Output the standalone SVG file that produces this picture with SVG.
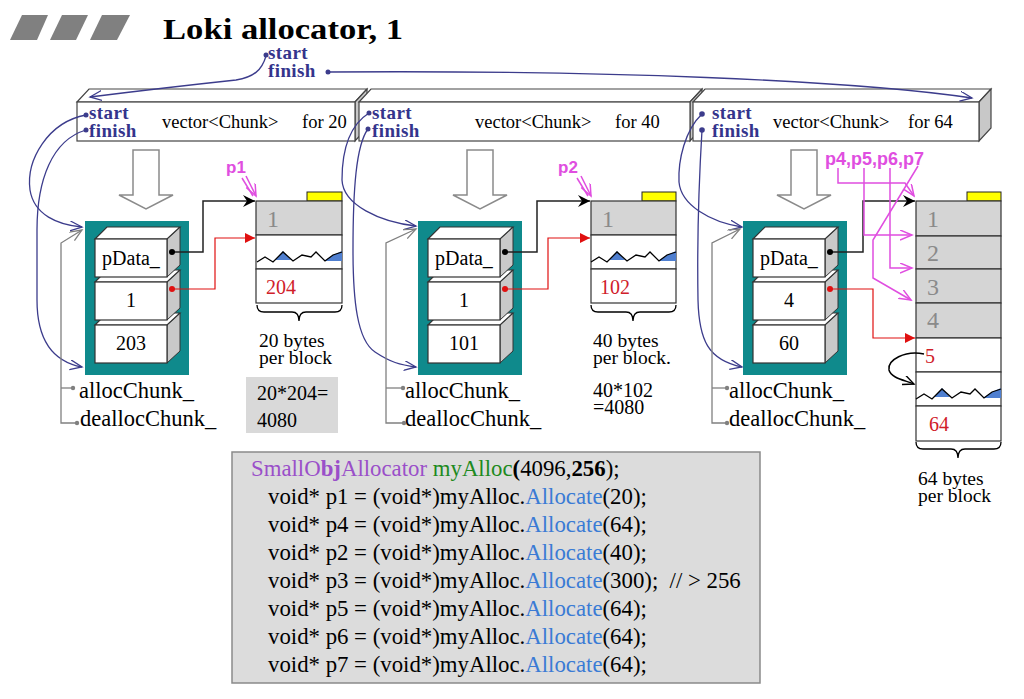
<svg xmlns="http://www.w3.org/2000/svg" xmlns:xlink="http://www.w3.org/1999/xlink" width="1024" height="699" viewBox="0 0 1024 699">
<style>
  .serif{font-family:"Liberation Serif","Times New Roman",serif;}
  .lbl{font-family:"Liberation Serif","Times New Roman",serif;font-weight:bold;font-size:19px;fill:#34348c;letter-spacing:0.4px;}
  .vt{font-family:"Liberation Serif","Times New Roman",serif;font-size:18.5px;fill:#000;}
  .bt{font-family:"Liberation Serif","Times New Roman",serif;font-size:20px;fill:#000;}
  .st{font-family:"Liberation Serif","Times New Roman",serif;font-size:19.5px;fill:#000;}
  .at{font-family:"Liberation Serif","Times New Roman",serif;font-size:22.5px;fill:#000;}
  .gnum{font-family:"Liberation Serif","Times New Roman",serif;font-size:24px;fill:#8a8a8a;}
  .rnum{font-family:"Liberation Serif","Times New Roman",serif;font-size:20px;fill:#d0202a;}
  .mag{font-family:"Liberation Sans",Arial,sans-serif;font-weight:bold;fill:#e04ee0;}
  .code{font-family:"Liberation Serif","Times New Roman",serif;font-size:22.8px;fill:#000;}
  .face{fill:#fff;stroke:#444;stroke-width:1.2;}
  .side{fill:#c8c8c8;stroke:#444;stroke-width:1.2;}
  .blk{fill:#fff;stroke:#333;stroke-width:1.2;}
  .bside{fill:#c9c9c9;stroke:#333;stroke-width:1;}
  .grow{fill:#d5d5d5;stroke:#333;stroke-width:1.2;}
  .wrow{fill:#fff;stroke:#333;stroke-width:1.2;}
  .yel{fill:#ffff00;stroke:#222;stroke-width:1;}
  .navy{fill:none;stroke:#3c3c8c;stroke-width:1.3;}
  .grayl{fill:none;stroke:#808080;stroke-width:1.3;}
  .magl{fill:none;stroke:#e04ee0;stroke-width:1.5;}
  .hollow{fill:#fff;stroke:#8a8a8a;stroke-width:1.5;}
</style>
<defs>
  <marker id="navyV" markerUnits="userSpaceOnUse" markerWidth="14" markerHeight="12" refX="12" refY="5" orient="auto">
    <path d="M0,0 L12,5 L0,10" fill="none" stroke="#3c3c8c" stroke-width="1.3"/>
  </marker>
  <marker id="grayV" markerUnits="userSpaceOnUse" markerWidth="14" markerHeight="12" refX="12" refY="5" orient="auto">
    <path d="M0,0 L12,5 L0,10" fill="none" stroke="#808080" stroke-width="1.3"/>
  </marker>
  <marker id="magV" markerUnits="userSpaceOnUse" markerWidth="14" markerHeight="12" refX="12" refY="5" orient="auto">
    <path d="M0,0 L12,5 L0,10" fill="none" stroke="#e04ee0" stroke-width="1.5"/>
  </marker>
  <marker id="blkA" markerUnits="userSpaceOnUse" markerWidth="14" markerHeight="14" refX="12" refY="6" orient="auto">
    <path d="M0,0 L12,6 L0,12 L4,6 z" fill="#000"/>
  </marker>
  <marker id="blkV" markerUnits="userSpaceOnUse" markerWidth="14" markerHeight="12" refX="11" refY="5" orient="auto">
    <path d="M0,0 L11,5 L0,10" fill="none" stroke="#000" stroke-width="1.4"/>
  </marker>
  <marker id="redA" markerUnits="userSpaceOnUse" markerWidth="12" markerHeight="12" refX="10" refY="5" orient="auto">
    <path d="M0,0 L10,5 L0,10 z" fill="#e01010"/>
  </marker>
  <g id="wave">
    <polygon points="275,260 283,251 291,260" fill="#4f7fd0"/>
    <polygon points="324,261 333,255 342,251 342,261" fill="#4f7fd0"/>
    <polyline points="257,262 265,257 273,262 283,252 293,261 302,255 311,257 316,252 325,261 333,255 342,252" fill="none" stroke="#000" stroke-width="1.3"/>
  </g>
  <path id="brace" d="M257,305 Q257,312 264,312 L292,312 Q299,312 299,321 Q299,312 306,312 L335,312 Q342,312 342,305" fill="none" stroke="#000" stroke-width="1.3"/>
  <g id="stack">
    <rect x="85" y="221" width="104" height="154" fill="#0f8a8c"/>
    <polygon class="bside" points="167,325 180,313 180,351 167,363"/>
    <polygon class="blk" points="95,325 107,313 180,313 167,325"/>
    <rect class="blk" x="95" y="325" width="72" height="38"/>
    <polygon class="bside" points="167,282 180,270 180,308 167,320"/>
    <polygon class="blk" points="95,282 107,270 180,270 167,282"/>
    <rect class="blk" x="95" y="282" width="72" height="38"/>
    <polygon class="bside" points="167,239 180,227 180,265 167,277"/>
    <polygon class="blk" points="95,239 107,227 180,227 167,239"/>
    <rect class="blk" x="95" y="239" width="72" height="38"/>
  </g>
  <polygon id="hollow" class="hollow" points="133,150 159,150 159,195 173,195 146,209 119,195 133,195"/>
</defs>

<rect x="0" y="0" width="1024" height="699" fill="#fff"/>

<g id="title">
  <polygon points="22,15 48,15 37,40 10,40" fill="#808080"/>
  <polygon points="62,15 88,15 76,40 50,40" fill="#808080"/>
  <polygon points="102,15 130,15 117,40 90,40" fill="#808080"/>
  <text x="163" y="39" class="serif" font-size="29" font-weight="bold" textLength="240" lengthAdjust="spacingAndGlyphs">Loki allocator, 1</text>
</g>

<g id="outer-vector">
  <text x="268" y="59" class="lbl">start</text>
  <text x="268" y="77" class="lbl">finish</text>
</g>

<g id="vec1">
  <polygon class="face" points="77,102 89,89 367,89 355,102"/>
  <polygon class="side" points="355,102 367,89 367,128 355,141"/>
  <rect class="face" x="77" y="102" width="278" height="39"/>
  <text x="89" y="119" class="lbl">start</text>
  <text x="89" y="137" class="lbl">finish</text>
  <text x="162" y="128" class="vt">vector&lt;Chunk&gt;</text>
  <text x="302" y="128" class="vt">for 20</text>
</g>
<g id="vec2">
  <polygon class="face" points="359,102 371,89 702,89 690,102"/>
  <polygon class="side" points="690,102 702,89 702,128 690,141"/>
  <rect class="face" x="359" y="102" width="331" height="39"/>
  <text x="372" y="119" class="lbl">start</text>
  <text x="372" y="137" class="lbl">finish</text>
  <text x="475" y="128" class="vt">vector&lt;Chunk&gt;</text>
  <text x="615" y="128" class="vt">for 40</text>
</g>
<g id="vec3">
  <polygon class="face" points="693,102 705,89 991,89 979,102"/>
  <polygon class="side" points="979,102 991,89 991,128 979,141"/>
  <rect class="face" x="693" y="102" width="286" height="39"/>
  <text x="712" y="119" class="lbl">start</text>
  <text x="712" y="137" class="lbl">finish</text>
  <text x="773" y="128" class="vt">vector&lt;Chunk&gt;</text>
  <text x="908" y="128" class="vt">for 64</text>
</g>

<g id="arrows-down">
  <use xlink:href="#hollow"/>
  <use xlink:href="#hollow" transform="translate(334,0)"/>
  <use xlink:href="#hollow" transform="translate(658,0)"/>
</g>

<g id="chunk1">
  <use xlink:href="#stack"/>
  <text x="131" y="265" class="bt" text-anchor="middle">pData_</text>
  <text x="131" y="307" class="bt" text-anchor="middle">1</text>
  <text x="131" y="350" class="bt" text-anchor="middle">203</text>
  <text x="79" y="398" class="at">allocChunk_</text>
  <text x="80" y="426" class="at">deallocChunk_</text>
</g>
<g id="chunk2">
  <use xlink:href="#stack" transform="translate(333,0)"/>
  <text x="464" y="265" class="bt" text-anchor="middle">pData_</text>
  <text x="464" y="307" class="bt" text-anchor="middle">1</text>
  <text x="464" y="350" class="bt" text-anchor="middle">101</text>
  <text x="405" y="398" class="at">allocChunk_</text>
  <text x="405" y="426" class="at">deallocChunk_</text>
</g>
<g id="chunk3">
  <use xlink:href="#stack" transform="translate(658,0)"/>
  <text x="789" y="265" class="bt" text-anchor="middle">pData_</text>
  <text x="789" y="307" class="bt" text-anchor="middle">4</text>
  <text x="789" y="350" class="bt" text-anchor="middle">60</text>
  <text x="729" y="398" class="at">allocChunk_</text>
  <text x="729" y="426" class="at">deallocChunk_</text>
</g>

<g id="mem1">
  <rect class="yel" x="307" y="192" width="35" height="9"/>
  <rect class="grow" x="256" y="201" width="86" height="34"/>
  <rect class="wrow" x="256" y="235" width="86" height="34"/>
  <rect class="wrow" x="256" y="269" width="86" height="34"/>
  <text x="267" y="227" class="gnum">1</text>
  <use xlink:href="#wave"/>
  <text x="266" y="294" class="rnum">204</text>
  <use xlink:href="#brace"/>
  <text x="259" y="347" class="st">20 bytes</text>
  <text x="259" y="364" class="st">per block</text>
  <rect x="246" y="377" width="92" height="56" fill="#d9d9d9"/>
  <text x="257" y="400" class="bt">20*204=</text>
  <text x="257" y="427" class="bt">4080</text>
</g>
<g id="mem2">
  <rect class="yel" x="642" y="192" width="34" height="9"/>
  <rect class="grow" x="591" y="201" width="85" height="34"/>
  <rect class="wrow" x="591" y="235" width="85" height="34"/>
  <rect class="wrow" x="591" y="269" width="85" height="34"/>
  <text x="602" y="227" class="gnum">1</text>
  <use xlink:href="#wave" transform="translate(334,0)"/>
  <text x="600" y="294" class="rnum">102</text>
  <use xlink:href="#brace" transform="translate(334,0)"/>
  <text x="593" y="347" class="st">40 bytes</text>
  <text x="593" y="364" class="st">per block.</text>
  <text x="593" y="397" class="bt" font-size="19">40*102</text>
  <text x="593" y="414" class="bt" font-size="19">=4080</text>
</g>
<g id="mem3">
  <rect class="yel" x="967" y="192" width="34" height="9"/>
  <rect class="grow" x="916" y="201" width="85" height="35"/>
  <rect class="grow" x="916" y="236" width="85" height="33"/>
  <rect class="grow" x="916" y="269" width="85" height="34"/>
  <rect class="grow" x="916" y="303" width="85" height="35"/>
  <rect class="wrow" x="916" y="338" width="85" height="34"/>
  <rect class="wrow" x="916" y="372" width="85" height="34"/>
  <rect class="wrow" x="916" y="406" width="85" height="35"/>
  <text x="927" y="227" class="gnum">1</text>
  <text x="927" y="261" class="gnum">2</text>
  <text x="927" y="295" class="gnum">3</text>
  <text x="927" y="328" class="gnum">4</text>
  <text x="925" y="363" class="rnum">5</text>
  <use xlink:href="#wave" transform="translate(659,137)"/>
  <text x="929" y="431" class="rnum">64</text>
  <use xlink:href="#brace" transform="translate(659,137)"/>
  <text x="918" y="485" class="st">64 bytes</text>
  <text x="918" y="502" class="st">per block</text>
</g>

<g id="pointer-labels">
  <text x="226" y="173" class="mag" font-size="17">p1</text>
  <text x="558" y="173" class="mag" font-size="17">p2</text>
  <text x="825" y="165" class="mag" font-size="18">p4,p5,p6,p7</text>
</g>

<g id="code">
  <rect x="232" y="452" width="528" height="231" fill="#dcdcdc" stroke="#8a8a8a" stroke-width="1.5"/>
  <text x="251" y="476" class="code"><tspan fill="#9a4fc9">SmallO<tspan font-weight="bold">bj</tspan>Allocator</tspan> <tspan fill="#1e8a1e">myAlloc</tspan><tspan font-weight="bold">(</tspan>4096,<tspan font-weight="bold">256</tspan>);</text>
  <text x="268" y="504" class="code">void* p1 = (void*)myAlloc.<tspan fill="#3a7bd5">Allocate</tspan>(20);</text>
  <text x="268" y="532" class="code">void* p4 = (void*)myAlloc.<tspan fill="#3a7bd5">Allocate</tspan>(64);</text>
  <text x="268" y="560" class="code">void* p2 = (void*)myAlloc.<tspan fill="#3a7bd5">Allocate</tspan>(40);</text>
  <text x="268" y="588" class="code" xml:space="preserve">void* p3 = (void*)myAlloc.<tspan fill="#3a7bd5">Allocate</tspan>(300);  // &gt; 256</text>
  <text x="268" y="616" class="code">void* p5 = (void*)myAlloc.<tspan fill="#3a7bd5">Allocate</tspan>(64);</text>
  <text x="268" y="644" class="code">void* p6 = (void*)myAlloc.<tspan fill="#3a7bd5">Allocate</tspan>(64);</text>
  <text x="268" y="672" class="code">void* p7 = (void*)myAlloc.<tspan fill="#3a7bd5">Allocate</tspan>(64);</text>
</g>

<g id="connectors">
  <path class="navy" d="M266,56 C262,70 254,77 236,80 C180,86 130,92 90,97" marker-end="url(#navyV)"/>
  <path class="navy" d="M328,72 C600,70 850,80 972,98" marker-end="url(#navyV)"/>
  <path class="navy" d="M86,115 C48,122 26,160 30,190 C34,215 58,225 82,227" marker-end="url(#navyV)"/>
  <path class="navy" d="M86,130 C52,140 37,180 37,230 L37,300 C37,343 55,362 82,367" marker-end="url(#navyV)"/>
  <path class="navy" d="M369,113 C350,125 342,150 342,180 C343,205 380,222 416,226" marker-end="url(#navyV)"/>
  <path class="navy" d="M368,129 C356,145 353,190 353,250 C353,300 357,340 375,352 C390,362 400,365 416,367" marker-end="url(#navyV)"/>
  <path class="navy" d="M702,114 C685,130 678,160 679,182 C681,205 710,222 742,227" marker-end="url(#navyV)"/>
  <path class="navy" d="M702,130 C699,180 697,240 698,300 C699,340 708,360 742,367" marker-end="url(#navyV)"/>
  <g fill="#3c3c8c">
    <circle cx="266" cy="55" r="2.5"/><circle cx="328" cy="72" r="2.5"/>
    <circle cx="86" cy="115" r="2.5"/><circle cx="86" cy="130" r="2.5"/>
    <circle cx="369" cy="113" r="2.5"/><circle cx="368" cy="129" r="2.5"/>
    <circle cx="702" cy="114" r="2.8"/><circle cx="702" cy="130" r="2.8"/>
  </g>
  <path class="grayl" d="M77,423 H61 V243 L82,230" marker-end="url(#grayV)"/>
  <path class="grayl" d="M61,388 H73"/>
  <path class="grayl" d="M404,423 H386 V243 L416,229" marker-end="url(#grayV)"/>
  <path class="grayl" d="M386,388 H403"/>
  <path class="grayl" d="M727,423 H712 V243 L740,229" marker-end="url(#grayV)"/>
  <path class="grayl" d="M712,388 H727"/>
  <g fill="#808080">
    <circle cx="73" cy="388" r="2.2"/><circle cx="77" cy="423" r="2.2"/>
    <circle cx="403" cy="388" r="2.2"/><circle cx="404" cy="423" r="2.2"/>
    <circle cx="727" cy="388" r="2.2"/><circle cx="727" cy="423" r="2.2"/>
  </g>
  <path d="M172,252 H203 V201 H255" fill="none" stroke="#222" stroke-width="1.5" marker-end="url(#blkA)"/>
  <path d="M505,252 H537 V201 H590" fill="none" stroke="#222" stroke-width="1.5" marker-end="url(#blkA)"/>
  <path d="M830,252 H863 V201 H915" fill="none" stroke="#222" stroke-width="1.5" marker-end="url(#blkA)"/>
  <g fill="#000">
    <circle cx="172" cy="252" r="3"/><circle cx="505" cy="252" r="3"/><circle cx="830" cy="252" r="3"/>
  </g>
  <path d="M172,289 H215 V238 H255" fill="none" stroke="#e01010" stroke-width="1.2" marker-end="url(#redA)"/>
  <path d="M505,289 H548 V238 H590" fill="none" stroke="#e01010" stroke-width="1.2" marker-end="url(#redA)"/>
  <path d="M830,289 H873 V338 H915" fill="none" stroke="#e01010" stroke-width="1.2" marker-end="url(#redA)"/>
  <g fill="#e01010">
    <circle cx="172" cy="289" r="3"/><circle cx="505" cy="289" r="3"/><circle cx="830" cy="289" r="3"/>
  </g>
  <path d="M924,354 C905,350 887,360 889,370 C891,378 904,380 914,384" fill="none" stroke="#000" stroke-width="1.5" marker-end="url(#blkV)"/>
  <path class="magl" d="M242,178 L253,196"/>
  <path class="magl" d="M246,176 L256,196" marker-end="url(#magV)"/>
  <path class="magl" d="M577,178 L588,196"/>
  <path class="magl" d="M581,176 L591,196" marker-end="url(#magV)"/>
  <path class="magl" d="M838,168 V183 H905 L914,196" marker-end="url(#magV)"/>
  <path class="magl" d="M864,168 V235 H912" marker-end="url(#magV)"/>
  <path class="magl" d="M890,168 V268 H912" marker-end="url(#magV)"/>
  <path class="magl" d="M918,166 L873,240 L873,278 L911,300" marker-end="url(#magV)"/>
</g>
</svg>
